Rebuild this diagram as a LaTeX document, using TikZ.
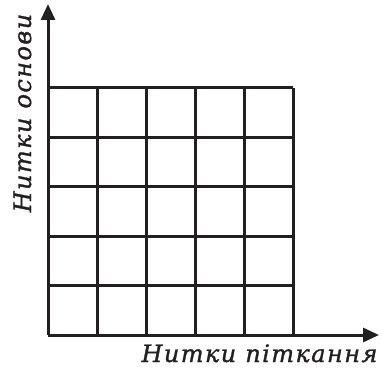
\documentclass[tikz,border=0pt]{standalone}
\usepackage{fontspec}
\setmainfont{DejaVu Serif}
\usetikzlibrary{arrows.meta}
\definecolor{ink}{HTML}{231F20}
\begin{document}
\begin{tikzpicture}[x=1pt,y=1pt,
  gridline/.style={line width=3pt,draw=ink},
  axis/.style={line width=3pt,draw=ink,-{Triangle[length=16pt,width=14pt]}},
  axlabel/.style={inner sep=0pt,text=ink,font=\fontsize{24}{26}\selectfont\itshape\addfontfeatures{LetterSpace=6,FakeBold=1.2}}]
\useasboundingbox (0,0) rectangle (382,372);
\coordinate (O) at (48,37);
\coordinate (Y) at (48,368);
\coordinate (X) at (379,37);
\foreach \i in {1,...,5} {
  \draw[gridline] ({48+49*\i},37) -- ({48+49*\i},284);
  \draw[gridline] (48,{37+49.4*\i}) -- (293,{37+49.4*\i});
}
\draw[axis] (O) -- (Y);
\draw[axis] (O) -- (X);
\node[axlabel,anchor=base] (xl) at (259.5,10) {Нитки піткання};
\node[axlabel,anchor=base,rotate=90] (yl) at (31,259) {Нитки основи};
\end{tikzpicture}
\end{document}
